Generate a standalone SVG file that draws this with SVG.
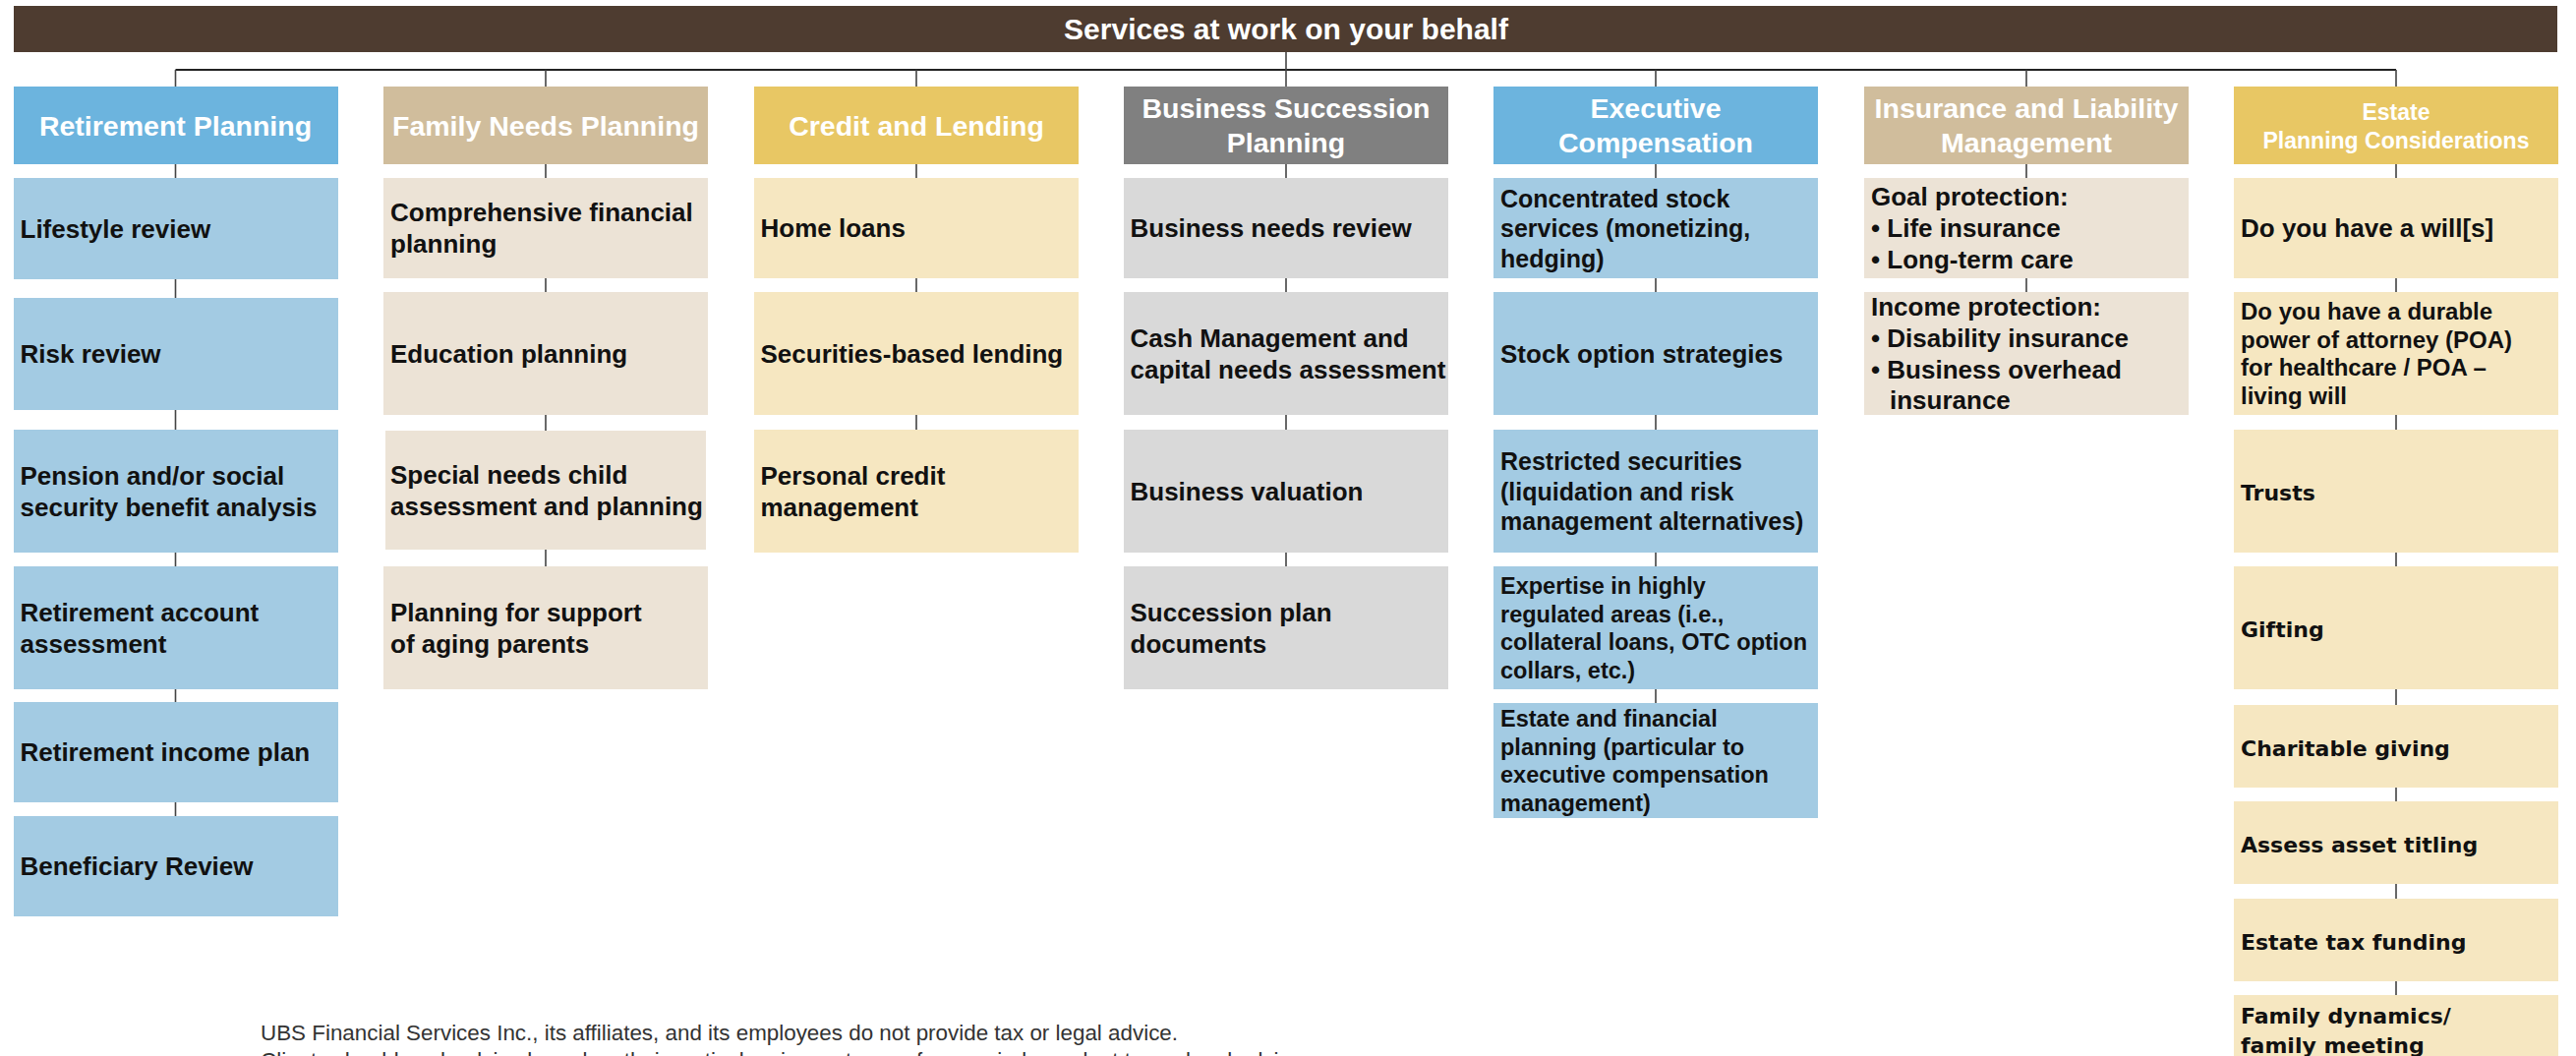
<svg xmlns="http://www.w3.org/2000/svg" width="2620" height="1074" viewBox="0 0 2620 1074">
<style>
text{font-family:"Liberation Sans",Arial,sans-serif;}
.t{font-weight:bold;font-size:30px;fill:#fff;text-anchor:middle;}
.h{font-weight:bold;font-size:28.5px;fill:#fff;text-anchor:middle;}
.h2{font-weight:bold;font-size:23px;fill:#fff;text-anchor:middle;}
.i{font-weight:bold;font-size:26px;fill:#111;}
.s{font-weight:bold;font-size:25px;fill:#111;}
.xs{font-weight:bold;font-size:23.5px;fill:#111;}
.p{font-weight:bold;font-size:24px;fill:#111;}
.v{font-family:"DejaVu Sans",Verdana,sans-serif;font-weight:bold;font-size:22px;fill:#111;}
.f{font-size:22.4px;fill:#333;}
.c{stroke:#444;stroke-width:1.6;fill:none;}
.bus{stroke:#222;stroke-width:2;fill:none;}
.hb{fill:#6cb4de}.ib{fill:#a3cbe3}
.ht{fill:#d0bd9c}.it{fill:#ece3d6}
.hg{fill:#e8c764}.ig{fill:#f6e7c1}
.hk{fill:#808080}.ik{fill:#d9d9d9}
</style>
<g id="connectors">
<path class="bus" d="M178.5 71H2437"/>
<path class="c" d="M1308 53V88"/>
<path class="c" d="M178.5 71V88M555 71V88M932 71V88M1684 71V88M2061 71V88M2437 71V88"/>
<path class="c" d="M178.5 167V181M178.5 284V303M178.5 417V437M178.5 562V576M178.5 701V714M178.5 816V830"/>
<path class="c" d="M555 167V181M555 283V297M555 422V438M555 559V576"/>
<path class="c" d="M932 167V181M932 283V297M932 422V437"/>
<path class="c" d="M1308 167V181M1308 283V297M1308 422V437M1308 562V576"/>
<path class="c" d="M1684 167V181M1684 283V297M1684 422V437M1684 562V576M1684 701V715"/>
<path class="c" d="M2061 167V181M2061 283V297"/>
<path class="c" d="M2437 167V181M2437 283V297M2437 422V437M2437 562V576M2437 701V717M2437 801V815M2437 899V914M2437 998V1012"/>
</g>
<g id="title">
<rect x="14" y="6" width="2587" height="47" fill="#4e3c30"/>
<text class="t" x="1308" y="40">Services at work on your behalf</text>
</g>
<g id="col-retirement">
<g id="h-retirement"><rect class="hb" x="14" y="88" width="330" height="79"/><text class="h" x="178.5" y="137.7">Retirement Planning</text></g>
<g id="r1"><rect class="ib" x="14" y="181" width="330" height="103"/><text class="i" x="20.5" y="241.8">Lifestyle review</text></g>
<g id="r2"><rect class="ib" x="14" y="303" width="330" height="114"/><text class="i" x="20.5" y="369.3">Risk review</text></g>
<g id="r3"><rect class="ib" x="14" y="437" width="330" height="125"/><text class="i" x="20.5" y="492.8">Pension and/or social</text><text class="i" x="20.5" y="524.8">security benefit analysis</text></g>
<g id="r4"><rect class="ib" x="14" y="576" width="330" height="125"/><text class="i" x="20.5" y="631.8">Retirement account</text><text class="i" x="20.5" y="663.8">assessment</text></g>
<g id="r5"><rect class="ib" x="14" y="714" width="330" height="102"/><text class="i" x="20.5" y="774.3">Retirement income plan</text></g>
<g id="r6"><rect class="ib" x="14" y="830" width="330" height="102"/><text class="i" x="20.5" y="890.3">Beneficiary Review</text></g>
</g>
<g id="col-family">
<g id="h-family"><rect class="ht" x="390" y="88" width="330" height="79"/><text class="h" x="555" y="137.7">Family Needs Planning</text></g>
<g id="f1"><rect class="it" x="390" y="181" width="330" height="102"/><text class="i" x="397" y="225.3">Comprehensive financial</text><text class="i" x="397" y="257.3">planning</text></g>
<g id="f2"><rect class="it" x="390" y="297" width="330" height="125"/><text class="i" x="397" y="368.8">Education planning</text></g>
<g id="f3"><rect class="it" x="392" y="438" width="326" height="121"/><text class="i" x="397" y="491.8">Special needs child</text><text class="i" x="397" y="523.8">assessment and planning</text></g>
<g id="f4"><rect class="it" x="390" y="576" width="330" height="125"/><text class="i" x="397" y="631.8">Planning for support</text><text class="i" x="397" y="663.8">of aging parents</text></g>
</g>
<g id="col-credit">
<g id="h-credit"><rect class="hg" x="767" y="88" width="330" height="79"/><text class="h" x="932" y="137.7">Credit and Lending</text></g>
<g id="c1"><rect class="ig" x="767" y="181" width="330" height="102"/><text class="i" x="773.5" y="241.3">Home loans</text></g>
<g id="c2"><rect class="ig" x="767" y="297" width="330" height="125"/><text class="i" x="773.5" y="368.8">Securities-based lending</text></g>
<g id="c3"><rect class="ig" x="767" y="437" width="330" height="125"/><text class="i" x="773.5" y="492.8">Personal credit</text><text class="i" x="773.5" y="524.8">management</text></g>
</g>
<g id="col-business">
<g id="h-business"><rect class="hk" x="1143" y="88" width="330" height="79"/><text class="h" x="1308" y="120">Business Succession</text><text class="h" x="1308" y="155">Planning</text></g>
<g id="b1"><rect class="ik" x="1143" y="181" width="330" height="102"/><text class="i" x="1149.5" y="241.3">Business needs review</text></g>
<g id="b2"><rect class="ik" x="1143" y="297" width="330" height="125"/><text class="i" x="1149.5" y="352.8">Cash Management and</text><text class="i" x="1149.5" y="384.8">capital needs assessment</text></g>
<g id="b3"><rect class="ik" x="1143" y="437" width="330" height="125"/><text class="i" x="1149.5" y="508.8">Business valuation</text></g>
<g id="b4"><rect class="ik" x="1143" y="576" width="330" height="125"/><text class="i" x="1149.5" y="631.8">Succession plan</text><text class="i" x="1149.5" y="663.8">documents</text></g>
</g>
<g id="col-executive">
<g id="h-executive"><rect class="hb" x="1519" y="88" width="330" height="79"/><text class="h" x="1684" y="120">Executive</text><text class="h" x="1684" y="155">Compensation</text></g>
<g id="e1"><rect class="ib" x="1519" y="181" width="330" height="102"/><text class="s" x="1526" y="210.5">Concentrated stock</text><text class="s" x="1526" y="241">services (monetizing,</text><text class="s" x="1526" y="271.5">hedging)</text></g>
<g id="e2"><rect class="ib" x="1519" y="297" width="330" height="125"/><text class="i" x="1526" y="368.8">Stock option strategies</text></g>
<g id="e3"><rect class="ib" x="1519" y="437" width="330" height="125"/><text class="s" x="1526" y="478">Restricted securities</text><text class="s" x="1526" y="508.5">(liquidation and risk</text><text class="s" x="1526" y="539">management alternatives)</text></g>
<g id="e4"><rect class="ib" x="1519" y="576" width="330" height="125"/><text class="xs" x="1526" y="604">Expertise in highly</text><text class="xs" x="1526" y="632.6">regulated areas (i.e.,</text><text class="xs" x="1526" y="661.2">collateral loans, OTC option</text><text class="xs" x="1526" y="689.8">collars, etc.)</text></g>
<g id="e5"><rect class="ib" x="1519" y="715" width="330" height="117"/><text class="xs" x="1526" y="739">Estate and financial</text><text class="xs" x="1526" y="767.6">planning (particular to</text><text class="xs" x="1526" y="796.2">executive compensation</text><text class="xs" x="1526" y="824.8">management)</text></g>
</g>
<g id="col-insurance">
<g id="h-insurance"><rect class="ht" x="1896" y="88" width="330" height="79"/><text class="h" x="2061" y="120">Insurance and Liability</text><text class="h" x="2061" y="155">Management</text></g>
<g id="n1"><rect class="it" x="1896" y="181" width="330" height="102"/><text class="i" x="1903" y="209.3">Goal protection:</text><text class="i" x="1903" y="241.3">• Life insurance</text><text class="i" x="1903" y="273.3">• Long-term care</text></g>
<g id="n2"><rect class="it" x="1896" y="297" width="330" height="125"/><text class="i" x="1903" y="321.3">Income protection:</text><text class="i" x="1903" y="353">• Disability insurance</text><text class="i" x="1903" y="384.7">• Business overhead</text><text class="i" x="1922" y="416.4">insurance</text></g>
</g>
<g id="col-estate">
<g id="h-estate"><rect class="hg" x="2272" y="88" width="330" height="79"/><text class="h2" x="2437" y="121.7">Estate</text><text class="h2" x="2437" y="150.7">Planning Considerations</text></g>
<g id="s1"><rect class="ig" x="2272" y="181" width="330" height="102"/><text class="i" x="2279" y="241.3">Do you have a will[s]</text></g>
<g id="s2"><rect class="ig" x="2272" y="297" width="330" height="125"/><text class="p" x="2279" y="325.2">Do you have a durable</text><text class="p" x="2279" y="353.8">power of attorney (POA)</text><text class="p" x="2279" y="382.4">for healthcare / POA –</text><text class="p" x="2279" y="411">living will</text></g>
<g id="s3"><rect class="ig" x="2272" y="437" width="330" height="125"/><text class="v" x="2279" y="509">Trusts</text></g>
<g id="s4"><rect class="ig" x="2272" y="576" width="330" height="125"/><text class="v" x="2279" y="648">Gifting</text></g>
<g id="s5"><rect class="ig" x="2272" y="717" width="330" height="84"/><text class="v" x="2279" y="769">Charitable giving</text></g>
<g id="s6"><rect class="ig" x="2272" y="815" width="330" height="84"/><text class="v" x="2279" y="867">Assess asset titling</text></g>
<g id="s7"><rect class="ig" x="2272" y="914" width="330" height="84"/><text class="v" x="2279" y="966">Estate tax funding</text></g>
<g id="s8"><rect class="ig" x="2272" y="1012" width="330" height="90"/><text class="v" x="2279" y="1041">Family dynamics/</text><text class="v" x="2279" y="1071">family meeting</text></g>
</g>
<g id="footer">
<text class="f" x="265" y="1058">UBS Financial Services Inc., its affiliates, and its employees do not provide tax or legal advice.</text>
<text class="f" x="265" y="1086">Clients should seek advice based on their particular circumstances from an independent tax or legal advisor.</text>
</g>
</svg>
